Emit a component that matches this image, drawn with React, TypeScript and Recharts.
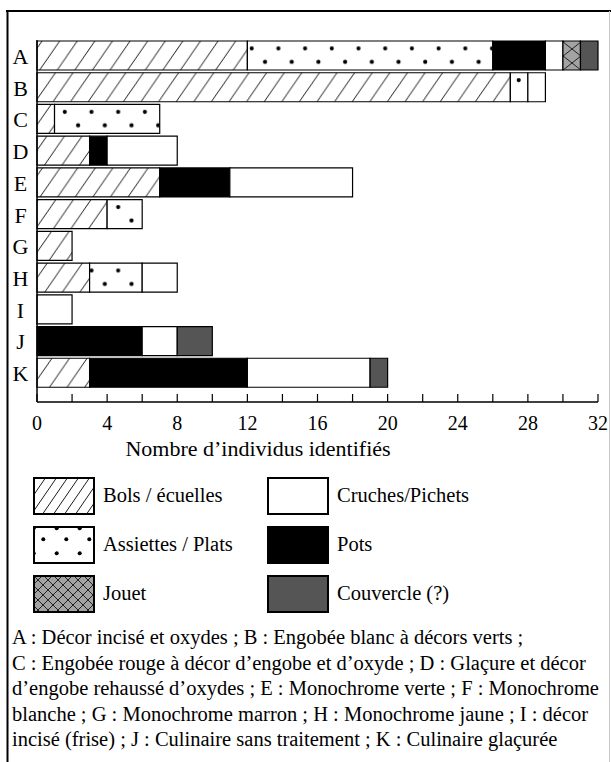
import React from 'react';
import { BarChart, Bar, XAxis, YAxis } from 'recharts';

const categories = ['A', 'B', 'C', 'D', 'E', 'F', 'G', 'H', 'I', 'J', 'K'];
const bols = [12, 27, 1, 3, 7, 4, 2, 3, 0, 0, 3];
const assiettes = [14, 1, 6, 0, 0, 2, 0, 3, 0, 0, 0];
const pots = [3, 0, 0, 1, 4, 0, 0, 0, 0, 6, 9];
const cruches = [1, 1, 0, 4, 7, 0, 0, 2, 2, 2, 7];
const jouet = [1, 0, 0, 0, 0, 0, 0, 0, 0, 0, 0];
const couvercle = [1, 0, 0, 0, 0, 0, 0, 0, 0, 2, 1];
const xTicks = [0, 2, 4, 6, 8, 10, 12, 14, 16, 18, 20, 22, 24, 26, 28, 30, 32];

const captionLines = [
  'A : Décor incisé et oxydes ; B : Engobée blanc à décors verts ;',
  'C : Engobée rouge à décor d’engobe et d’oxyde ; D : Glaçure et décor',
  'd’engobe rehaussé d’oxydes ; E : Monochrome verte ; F : Monochrome',
  'blanche ; G : Monochrome marron ; H : Monochrome jaune ; I : décor',
  'incisé (frise) ; J : Culinaire sans traitement ; K : Culinaire glaçurée',
];

const data = categories.map((name, i) => ({
  name,
  bols: bols[i],
  assiettes: assiettes[i],
  pots: pots[i],
  cruches: cruches[i],
  jouet: jouet[i],
  couvercle: couvercle[i],
}));

const FONT = "'Liberation Serif', 'Times New Roman', serif";

const XTick = (props: any) => {
  const { x, y, payload } = props;
  const v = payload.value;
  return (
    <g>
      <line x1={x} x2={x} y1={y} y2={y - 8} stroke="#000" strokeWidth={1.2} />
      {v % 4 === 0 && (
        <text x={x} y={y + 28} textAnchor="middle" fontSize={20} fontFamily={FONT} fill="#000">
          {v}
        </text>
      )}
    </g>
  );
};

const YTick = (props: any) => {
  const { y, payload } = props;
  return (
    <text x={20.5} y={y + 8} textAnchor="middle" fontSize={22} fontFamily={FONT} fill="#000">
      {payload.value}
    </text>
  );
};

const legendItems = [
  { label: 'Bols / écuelles', fill: 'url(#lgHatch)', x: 33, y: 477 },
  { label: 'Cruches/Pichets', fill: '#fff', x: 267, y: 477 },
  { label: 'Assiettes / Plats', fill: 'url(#lgDots)', x: 33, y: 526 },
  { label: 'Pots', fill: '#000', x: 267, y: 526 },
  { label: 'Jouet', fill: 'url(#lgCross)', x: 33, y: 575 },
  { label: 'Couvercle (?)', fill: '#555', x: 267, y: 575 },
];

const App: React.FC = () => {
  return (
    <div style={{ position: 'absolute', left: 0, top: 0, width: 611, height: 762, background: '#fff' }}>
      <div style={{ position: 'absolute', left: 0, top: 0 }}>
        <BarChart
          width={611}
          height={460}
          data={data}
          layout="vertical"
          margin={{ top: 40, right: 13, left: 0, bottom: 0 }}
          barSize={29}
        >
          <defs>
            <pattern id="hatch" patternUnits="userSpaceOnUse" width={17.6} height={25.5}>
              <rect width={17.6} height={25.5} fill="#fff" />
              <line x1={0} y1={25.5} x2={17.6} y2={0} stroke="#000" strokeWidth={0.9} />
              <line x1={-17.6} y1={25.5} x2={0} y2={0} stroke="#000" strokeWidth={0.9} />
              <line x1={17.6} y1={25.5} x2={35.2} y2={0} stroke="#000" strokeWidth={0.9} />
            </pattern>
            <pattern id="dots" patternUnits="userSpaceOnUse" x={247} y={41.4} width={26.7} height={31.727}>
              <rect width={26.7} height={31.727} fill="#fff" />
              <circle cx={4.7} cy={7} r={2.1} fill="#000" />
              <circle cx={18} cy={20.5} r={2.1} fill="#000" />
            </pattern>
            <pattern id="cross" patternUnits="userSpaceOnUse" width={17.6} height={14}>
              <rect width={17.6} height={14} fill="#a3a3a3" />
              <line x1={0} y1={0} x2={17.6} y2={14} stroke="#000" strokeWidth={0.8} />
              <line x1={0} y1={14} x2={17.6} y2={0} stroke="#000" strokeWidth={0.8} />
            </pattern>
          </defs>
          <XAxis
            type="number"
            domain={[0, 32]}
            ticks={xTicks}
            interval={0}
            height={58}
            tickSize={0}
            tickMargin={0}
            tick={<XTick />}
            axisLine={{ stroke: '#000', strokeWidth: 1.5 }}
          />
          <YAxis
            type="category"
            dataKey="name"
            width={37}
            tickLine={false}
            tick={<YTick />}
            padding={{ top: 0, bottom: 13 }}
            axisLine={{ stroke: '#000', strokeWidth: 1.5 }}
          />
          <Bar dataKey="bols" stackId="s" fill="url(#hatch)" stroke="#000" strokeWidth={1.2} isAnimationActive={false} />
          <Bar dataKey="assiettes" stackId="s" fill="url(#dots)" stroke="#000" strokeWidth={1.2} isAnimationActive={false} />
          <Bar dataKey="pots" stackId="s" fill="#000" stroke="#000" strokeWidth={1.2} isAnimationActive={false} />
          <Bar dataKey="cruches" stackId="s" fill="#fff" stroke="#000" strokeWidth={1.2} isAnimationActive={false} />
          <Bar dataKey="jouet" stackId="s" fill="url(#cross)" stroke="#000" strokeWidth={1.2} isAnimationActive={false} />
          <Bar dataKey="couvercle" stackId="s" fill="#555" stroke="#000" strokeWidth={1.2} isAnimationActive={false} />
        </BarChart>
      </div>
      <svg
        width={611}
        height={762}
        style={{ position: 'absolute', left: 0, top: 0, pointerEvents: 'none' }}
      >
        <defs>
          <pattern id="lgHatch" patternUnits="userSpaceOnUse" width={11} height={16}>
            <rect width={11} height={16} fill="#fff" />
            <line x1={0} y1={16} x2={11} y2={0} stroke="#000" strokeWidth={0.9} />
            <line x1={-11} y1={16} x2={0} y2={0} stroke="#000" strokeWidth={0.9} />
            <line x1={11} y1={16} x2={22} y2={0} stroke="#000" strokeWidth={0.9} />
          </pattern>
          <pattern id="lgDots" patternUnits="userSpaceOnUse" x={33} y={526} width={23} height={25}>
            <rect width={23} height={25} fill="#fff" />
            <circle cx={0.7} cy={2.3} r={2} fill="#000" />
            <circle cx={23.7} cy={2.3} r={2} fill="#000" />
            <circle cx={10.3} cy={13.3} r={2} fill="#000" />
          </pattern>
          <pattern id="lgCross" patternUnits="userSpaceOnUse" x={33} y={575} width={10} height={10}>
            <rect width={10} height={10} fill="#a3a3a3" />
            <line x1={0} y1={0} x2={10} y2={10} stroke="#000" strokeWidth={0.8} />
            <line x1={0} y1={10} x2={10} y2={0} stroke="#000" strokeWidth={0.8} />
          </pattern>
        </defs>
        {/* frame */}
        <line x1={6} y1={11} x2={611} y2={11} stroke="#000" strokeWidth={2} />
        <line x1={7.5} y1={10} x2={7.5} y2={762} stroke="#000" strokeWidth={2} />
        <line x1={609.5} y1={11} x2={609.5} y2={762} stroke="#c8c8c8" strokeWidth={1} />

        <text x={258} y={456} textAnchor="middle" fontSize={22} fontFamily={FONT} fill="#000">
          Nombre d’individus identifiés
        </text>

        {legendItems.map((it) => (
          <g key={it.label}>
            <rect x={it.x + 1} y={it.y + 1} width={60} height={36} fill={it.fill} stroke="#000" strokeWidth={2} />
            <text x={it.x + 70} y={it.y + 25} fontSize={20.5} fontFamily={FONT} fill="#000">
              {it.label}
            </text>
          </g>
        ))}

        {captionLines.map((line, i) => (
          <text key={i} x={12} y={644 + i * 25.5} fontSize={20.5} fontFamily={FONT} fill="#000">
            {line}
          </text>
        ))}
      </svg>
    </div>
  );
};

export default App;
